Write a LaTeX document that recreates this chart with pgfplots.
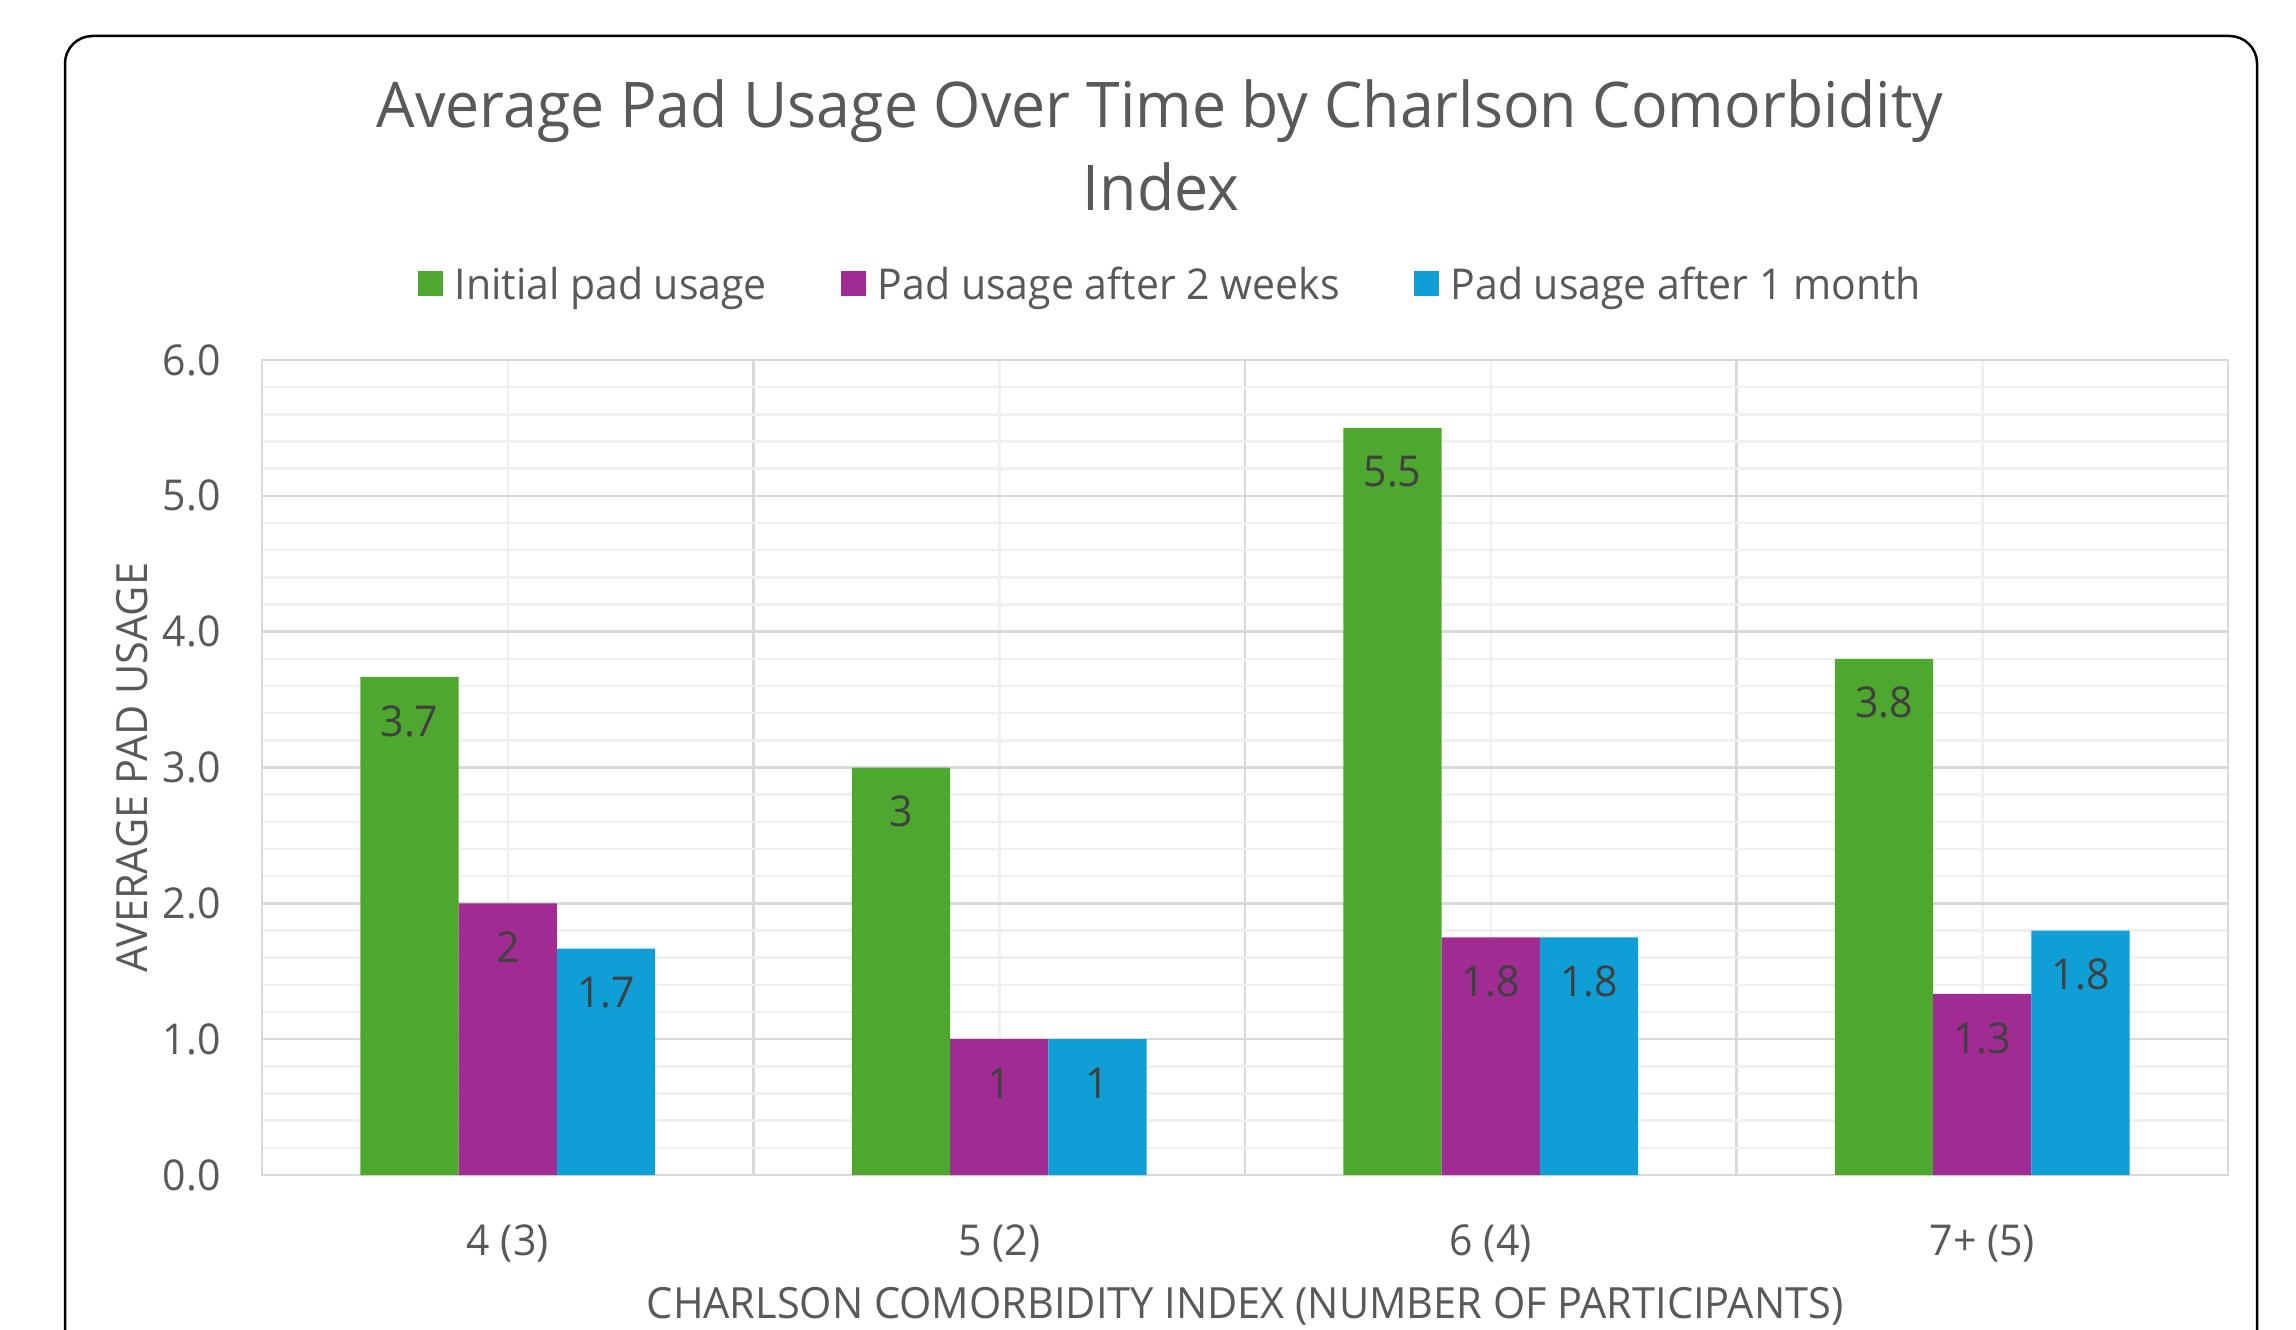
\documentclass[border=0pt]{standalone}
\usepackage{pgfplots}
\pgfplotsset{compat=1.18}
\usepackage{pgfplotstable}
\usepackage{fontspec}
\setmainfont{Open Sans}[FakeStretch=0.965]
\definecolor{cgreen}{HTML}{4EA72E}
\definecolor{cpurple}{HTML}{A02B93}
\definecolor{cblue}{HTML}{0F9ED5}
\definecolor{txt}{HTML}{595959}
\definecolor{lbl}{HTML}{404040}
\definecolor{gmaj}{HTML}{D9D9D9}
\definecolor{gmin}{HTML}{F0F0F0}

\pgfplotstableread{
x y lab
0 3.667 3.7
1 3 3
2 5.5 5.5
3 3.8 3.8
}\initial
\pgfplotstableread{
x y lab
0 2 2
1 1 1
2 1.75 1.8
3 1.333 1.3
}\twoweeks
\pgfplotstableread{
x y lab
0 1.667 1.7
1 1 1
2 1.75 1.8
3 1.8 1.8
}\onemonth

\begin{document}
\begin{tikzpicture}
\useasboundingbox (0,0) rectangle (459.2pt,265.8pt);
\clip (0,0) rectangle (459.2pt,265.8pt);
\fill[white] (0,0) rectangle (459.2pt,265.8pt);
\draw[black, line width=0.5pt, rounded corners=5.5pt] (13pt,-20pt) rectangle (451.4pt,258.6pt);
\node[anchor=base, text=txt, inner sep=0pt, font=\fontsize{12.6}{15}\selectfont] at (232pt,240.4pt) {Average Pad Usage Over Time by Charlson Comorbidity};
\node[anchor=base, text=txt, inner sep=0pt, font=\fontsize{12.6}{15}\selectfont] at (232.2pt,223.8pt) {Index};
\begin{axis}[
  at={(52.4pt,30.8pt)}, anchor=south west,
  scale only axis, width=393.2pt, height=163pt,
  xmin=-0.5, xmax=3.5, ymin=0, ymax=6,
  xtick={0,1,2,3}, xticklabels={4 (3),5 (2),6 (4),7+ (5)},
  minor xtick={-0.5,0.5,1.5,2.5,3.5},
  ytick={0,1,2,3,4,5,6}, minor y tick num=4,
  grid=both,
  major x grid style={draw=gmin, line width=0.5pt},
  minor x grid style={draw=gmaj, line width=0.5pt},
  major y grid style={draw=gmaj, line width=0.5pt},
  minor y grid style={draw=gmin, line width=0.5pt},
  tick style={draw=none},
  major tick length=0pt, minor tick length=0pt,
  axis line style={draw=gmaj, line width=0.5pt},
  /pgf/number format/.cd, fixed, fixed zerofill, precision=1, assume math mode=true,
  /pgfplots/.cd,
  ticklabel style={font=\fontsize{8.5}{10}\selectfont, text=txt},
  yticklabel style={inner sep=0pt, anchor=east, xshift=-8.1pt},
  xticklabel style={inner sep=0pt, anchor=base, yshift=-16pt},
  xlabel={CHARLSON COMORBIDITY INDEX (NUMBER OF PARTICIPANTS)},
  ylabel={AVERAGE PAD USAGE},
  label style={font=\fontsize{8.6}{10}\selectfont, text=txt},
  xlabel style={at={(axis description cs:0.5,0)}, anchor=base, inner sep=0pt, yshift=-28.6pt},
  ylabel style={at={(axis description cs:0,0.5)}, anchor=center, inner sep=0pt, yshift=26pt},
  ybar, bar width=0.2,
  point meta=explicit symbolic,
  nodes near coords,
  every node near coord/.append style={anchor=center, yshift=-8.8pt, font=\fontsize{8.5}{10}\selectfont, text=lbl},
  legend columns=3,
  legend style={at={(0.4615,1.0946)}, anchor=center, draw=none, fill=none,
    font=\fontsize{8.5}{10}\selectfont, text=txt,
    nodes={inner sep=0pt, text depth=0pt},
    /tikz/every odd column/.append style={column sep=2.4pt},
    /tikz/every even column/.append style={column sep=14.8pt}},
]
\addplot[fill=cgreen, draw=none, bar shift=-0.2, legend image code/.code={\fill[cgreen] (0pt,-2.6pt) rectangle (5pt,2.4pt);}] table[x=x, y=y, meta=lab] {\initial};
\addplot[fill=cpurple, draw=none, bar shift=0, legend image code/.code={\fill[cpurple] (0pt,-2.6pt) rectangle (5pt,2.4pt);}] table[x=x, y=y, meta=lab] {\twoweeks};
\addplot[fill=cblue, draw=none, bar shift=0.2, legend image code/.code={\fill[cblue] (0pt,-2.6pt) rectangle (5pt,2.4pt);}] table[x=x, y=y, meta=lab] {\onemonth};
\legend{Initial pad usage, Pad usage after 2 weeks, Pad usage after 1 month}
\end{axis}
\end{tikzpicture}
\end{document}
